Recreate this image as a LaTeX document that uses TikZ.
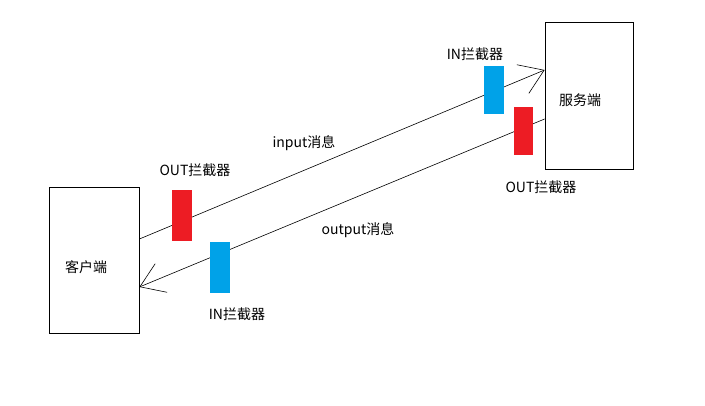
\documentclass[tikz,border=0pt]{standalone}
\usepackage{fontspec}
\setmainfont{Noto Sans CJK SC}
\usetikzlibrary{arrows.meta}
\definecolor{paintred}{HTML}{ED1C24}
\definecolor{paintblue}{HTML}{00A2E8}
\tikzset{
	side/.style={draw, line width=0.8pt, inner sep=0pt, minimum width=90pt, minimum height=146pt},
	filter/.style={inner sep=0pt, minimum width=20pt, minimum height=51pt},
	msg/.style={line width=0.6pt, -{Straight Barb[length=23pt, width=31pt, line width=0.6pt]}},
	txt/.style={font=\fontsize{14}{16}\selectfont, inner sep=0pt}
}

\begin{document}
\begin{tikzpicture}[x=1pt, y=-1pt]
	\useasboundingbox (0,0) rectangle (705,406);
	\node[side] (client) at (94,260) {};							%client box
	\node[side, minimum width=88pt, minimum height=147pt] (server) at (589,95.5) {};	%server box
	\node[txt] (clientname) at (86,267) {客户端};
	\node[txt] (servername) at (580,100) {服务端};
	\coordinate (inA) at (client.east |- 0,239);
	\coordinate (inB) at (server.west |- 0,70);
	\coordinate (outA) at (server.west |- 0,119);
	\coordinate (outB) at (client.east |- 0,287);
	\draw[msg] (inA) -- (inB);					%input line
	\draw[msg] (outA) -- (outB);				%output line
	\node[filter, fill=paintred] (outleft) at (182,215.5) {};
	\node[filter, fill=paintblue] (inleft) at (220,268) {};
	\node[filter, fill=paintblue, minimum height=48pt] (inright) at (494,90) {};
	\node[filter, fill=paintred, minimum width=19pt, minimum height=48pt] (outright) at (523.5,131) {};
	\node[txt] (outleftname) at (195,170) {OUT拦截器};
	\node[txt] (inleftname) at (237,314) {IN拦截器};
	\node[txt] (inrightname) at (475,54) {IN拦截器};
	\node[txt] (outrightname) at (541,187) {OUT拦截器};
	\node[txt] (inmsg) at (304,143) {input消息};
	\node[txt] (outmsg) at (358,230) {output消息};
\end{tikzpicture}
\end{document}
